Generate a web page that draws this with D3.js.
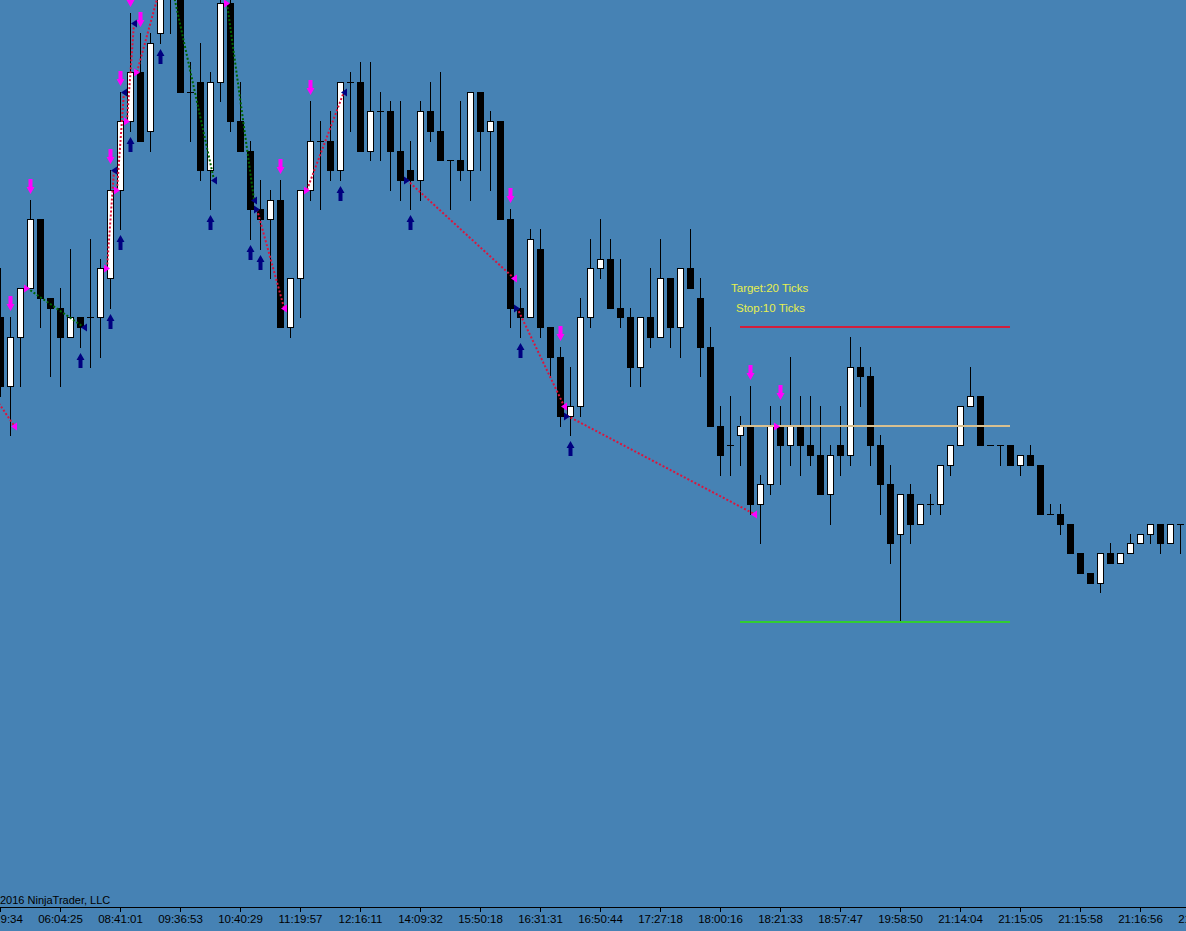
<!DOCTYPE html>
<html><head><meta charset="utf-8">
<script src="https://cdn.jsdelivr.net/npm/d3@7"></script>
<style>html,body{margin:0;padding:0;background:#4682B4;overflow:hidden}svg{display:block}</style>
</head><body>
<svg id="c" width="1186" height="931"></svg>
<script>
// ---- price data (in ticks), one entry per bar ----
const opens  = [111,104,109,114,121,113,112,109,111,111,111,115,124,131,136,130,140,147,146,134,135,126,135,143,131,128,122,121,123,110,115,124,129,129,126,135,135,128,132,132,128,126,125,132,130,127,127,126,134,130,131,121,112,111,118,110,107,101,102,111,116,117,112,111,106,111,109,115,110,116,113,108,100,98,99,100,92,94,100,98,100,98,97,93,98,97,106,105,98,94,89,93,90,92,92,96,98,102,103,98,98,98,96,97,96,91,91,90,87,85,84,87,86,87,88,89,90,88,90];
const highs  = [116,111,114,123,121,113,114,118,111,119,117,126,134,142,140,140,148,149,147,137,139,136,144,144,135,129,125,124,125,115,124,133,131,132,135,136,137,137,134,133,133,129,133,135,136,127,133,134,134,132,131,122,114,120,120,110,108,106,113,119,121,119,117,112,111,116,119,115,116,120,115,110,102,103,101,104,95,102,102,107,103,103,102,98,102,109,108,106,99,96,93,94,92,93,96,98,102,106,103,98,98,98,97,98,96,92,92,90,87,85,87,88,87,89,89,90,90,90,90];
const lows   = [103,99,104,114,110,105,104,109,108,106,107,112,120,130,129,128,139,140,134,129,125,122,133,130,128,119,118,115,110,109,111,123,122,125,125,130,128,127,127,124,123,122,123,129,127,122,125,123,126,124,121,110,109,111,109,105,100,99,101,110,115,112,110,104,104,108,109,108,107,114,105,100,95,95,96,91,88,93,94,96,95,96,93,90,95,96,102,96,91,86,80,88,90,91,91,95,98,102,98,98,96,96,95,96,91,91,89,87,85,84,83,86,86,87,88,88,87,88,87];
const closes = [104,109,114,121,113,112,109,111,110,111,116,124,131,136,129,139,146,145,134,134,126,135,143,131,128,122,121,123,110,115,124,129,129,126,135,135,128,132,132,128,125,125,132,130,127,127,126,134,130,131,121,112,111,119,110,107,101,102,111,116,117,112,111,106,111,109,115,110,116,114,108,100,97,98,100,92,94,100,98,100,98,97,93,97,97,106,105,98,94,88,93,90,92,92,96,98,102,103,98,98,98,96,97,96,91,91,90,87,85,84,87,86,87,88,89,90,88,90,90];

// ---- time axis labels (every 6 bars) ----
const tickBars   = [0,6,12,18,24,30,36,42,48,54,60,66,72,78,84,90,96,102,108,114,120];
const tickLabels = ["05:19:34","06:04:25","08:41:01","09:36:53","10:40:29","11:19:57","12:16:11","14:09:32","15:50:18","16:31:31","16:50:44","17:27:18","18:00:16","18:21:33","18:57:47","19:58:50","21:14:04","21:15:05","21:15:58","21:16:56","21:17:49"];

// ---- signal arrows (bar indices) ----
const downArrowBars = [1,3,11,12,13,14,28,31,51,56,75,78];
const upArrowBars   = [8,11,12,13,16,21,25,26,34,41,52,57];

// ---- executed trades ----
const tradeDir        = ["long","short","short","short","short","short","short","short","long","short","long","long","long","short"];
const tradeEntryBar   = [-5, 3, 11, 12, 13, 14, 17, 23, 26, 31, 41, 52, 57, 78];
const tradeEntryPrice = [110,114,116,124,131,136,147,143,122,124,125,112,101,100];
const tradeExitBar    = [1, 8, 11, 12, 13, 16, 21, 25, 28, 34, 51, 56, 75, null];
const tradeExitPrice  = [100,110,126,134,141,146,125,123,112,134,115,102,91, null];

// ---- open position levels ----
const levelNames  = ["stop","entry","target"];
const levelPrices = [110, 100, 80];
const levelFrom = 74, levelTo = 101;
const targetTicks = 20, stopTicks = 10;

const svg = d3.select("#c");
const W = 1186, H = 931;
const x = d3.scaleLinear().domain([0,120]).range([0,1200]);
const y = d3.scaleLinear().domain([80,110]).range([621.9,327.3]);
const px = i => Math.round(x(i));
const py = v => Math.round(y(v));

svg.append("rect").attr("width",W).attr("height",H).attr("fill","#4682B4");

const bars = d3.range(opens.length).map(i=>({i,o:opens[i],h:highs[i],l:lows[i],c:closes[i]}));
const g = svg.append("g");
// wicks
g.selectAll("line.wick").data(bars).join("line").attr("class","wick")
  .attr("x1",d=>px(d.i)+0.5).attr("x2",d=>px(d.i)+0.5)
  .attr("y1",d=>py(d.h)).attr("y2",d=>py(d.l)+1)
  .attr("stroke","#000").attr("stroke-width",1);
// bodies
g.selectAll("rect.body").data(bars.filter(d=>d.o!==d.c)).join("rect").attr("class","body")
  .attr("x",d=>px(d.i)-2.5).attr("width",6)
  .attr("y",d=>py(Math.max(d.o,d.c))+0.5)
  .attr("height",d=>Math.abs(py(d.o)-py(d.c)))
  .attr("fill",d=>d.c>d.o?"#fff":"#000").attr("stroke","#000").attr("stroke-width",1);
// doji dashes
g.selectAll("line.doji").data(bars.filter(d=>d.o===d.c)).join("line").attr("class","doji")
  .attr("x1",d=>px(d.i)-3).attr("x2",d=>px(d.i)+4)
  .attr("y1",d=>py(d.o)+0.5).attr("y2",d=>py(d.o)+0.5)
  .attr("stroke","#000").attr("stroke-width",1);

// level lines
const levelColors = {stop:"#D21E3C", entry:"#D8C090", target:"#32CD32"};
svg.selectAll("line.level").data(levelNames.map((n,k)=>({n,p:levelPrices[k]}))).join("line")
  .attr("x1",x(levelFrom)).attr("x2",x(levelTo))
  .attr("y1",d=>py(d.p)).attr("y2",d=>py(d.p))
  .attr("stroke",d=>levelColors[d.n]).attr("stroke-width",2);

// trade lines
const trades = tradeDir.map((dir,k)=>({dir, eb:tradeEntryBar[k], ep:tradeEntryPrice[k], xb:tradeExitBar[k], xp:tradeExitPrice[k]}));
const closed = trades.filter(t=>t.xb!==null);
svg.selectAll("line.trade").data(closed).join("line")
  .attr("x1",t=>px(t.eb)-3).attr("y1",t=>y(t.ep))
  .attr("x2",t=>px(t.xb)+4).attr("y2",t=>y(t.xp))
  .attr("stroke",t=>{const win = t.dir==="long"? t.xp>t.ep : t.xp<t.ep; return win?"#006400":"#DC143C";})
  .attr("stroke-width",2).attr("stroke-dasharray","2,2");

// execution markers
const PINK="#FF00FF", NAVY="#000080";
const marks=[];
trades.forEach(t=>{
  marks.push({bar:t.eb, price:t.ep, side:"entry", col:t.dir==="long"?NAVY:PINK});
  if(t.xb!==null) marks.push({bar:t.xb, price:t.xp, side:"exit", col:t.dir==="long"?PINK:NAVY});
});
svg.selectAll("path.mark").data(marks).join("path")
  .attr("d",m=>{const cx=px(m.bar), yy=py(m.price)+0.5;
    return m.side==="entry"
      ? `M${cx},${yy}L${cx-6},${yy-4}L${cx-6},${yy+4}Z`
      : `M${cx+1},${yy}L${cx+7},${yy-4}L${cx+7},${yy+4}Z`;})
  .attr("fill",m=>m.col);

// signal arrows
svg.selectAll("path.down").data(downArrowBars).join("path")
  .attr("d",i=>{const cx=px(i)+0.5, t=py(highs[i])-6;
    return `M${cx-2},${t-15}H${cx+2}V${t-7}H${cx+4}L${cx},${t}L${cx-4},${t-7}H${cx-2}Z`;})
  .attr("fill",PINK);
svg.selectAll("path.up").data(upArrowBars).join("path")
  .attr("d",i=>{const cx=px(i)+0.5, t=py(lows[i])+6;
    return `M${cx-2},${t+15}H${cx+2}V${t+7}H${cx+4}L${cx},${t}L${cx-4},${t+7}H${cx-2}Z`;})
  .attr("fill",NAVY);

// target / stop text
const txt = svg.append("g").attr("font-family","'Liberation Sans', Arial, sans-serif").attr("font-size",11.5).attr("fill","#E6F04E");
txt.append("text").attr("x",x(73)+1).attr("y",py(levelPrices[0])-35).text(`Target:${targetTicks} Ticks`);
txt.append("text").attr("x",x(73)+6).attr("y",py(levelPrices[0])-15).text(`Stop:${stopTicks} Ticks`);

// x axis
const ax = svg.append("g").attr("transform","translate(0,907)")
  .call(d3.axisBottom(x).tickValues(tickBars).tickFormat((d,k)=>tickLabels[k]).tickSize(5).tickSizeOuter(0));
ax.select(".domain").attr("stroke","#000");
ax.selectAll(".tick line").attr("stroke","#000");
ax.selectAll("text").attr("fill","#000").attr("font-size",11.5).attr("font-family","'Liberation Sans', Arial, sans-serif");

// copyright
const cp = svg.append("g").attr("font-family","'Liberation Sans', Arial, sans-serif").attr("font-size",11).attr("fill","#000");
cp.append("text").attr("x",-3).attr("y",904).attr("text-anchor","end").text("©");
cp.append("text").attr("x",0).attr("y",904).text("2016 NinjaTrader, LLC");
</script>
</body></html>
